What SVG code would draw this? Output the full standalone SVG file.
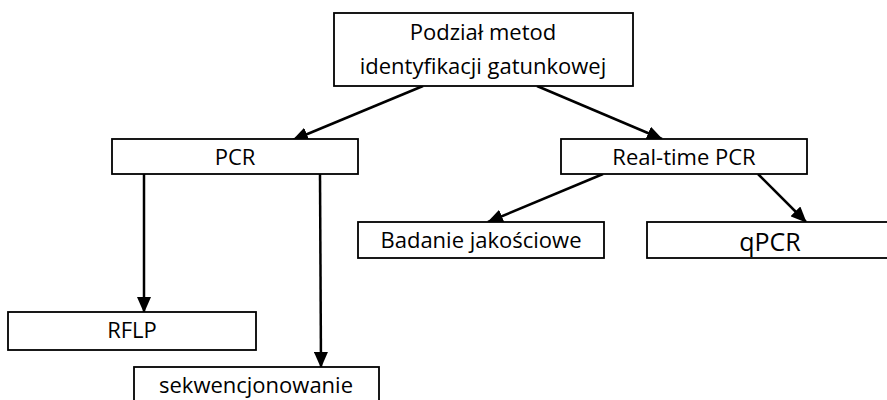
<svg xmlns="http://www.w3.org/2000/svg" width="887" height="400" viewBox="0 0 887 400">
<style>
.box{fill:#fff;stroke:#000;stroke-width:1.8}
.t{font-family:"Open Sans","Liberation Sans",sans-serif;font-size:22px;fill:#000;text-anchor:middle}
.c{stroke:#000;stroke-width:2.5;fill:none;marker-end:url(#ah)}
</style>
<defs>
<marker id="ah" markerUnits="userSpaceOnUse" markerWidth="16" markerHeight="14" refX="15" refY="7" orient="auto">
<path d="M0,0 L16,7 L0,14 z" fill="#000"/>
</marker>
</defs>
<rect width="887" height="400" fill="#fff"/>
<g id="connectors">
<line class="c" x1="423" y1="86" x2="293" y2="140"/>
<line class="c" x1="537" y1="86" x2="662" y2="139"/>
<line class="c" x1="144" y1="174" x2="144" y2="312"/>
<line class="c" x1="320" y1="174" x2="321" y2="367"/>
<line class="c" x1="603" y1="174" x2="488" y2="222"/>
<line class="c" x1="758" y1="174" x2="806" y2="222"/>
</g>
<g id="root">
<rect class="box" x="334" y="13" width="299" height="73"/>
<text class="t" x="483" y="40">Podział metod</text>
<text class="t" x="483" y="74">identyfikacji gatunkowej</text>
</g>
<g id="pcr">
<rect class="box" x="112" y="139" width="246" height="35"/>
<text class="t" x="235" y="165">PCR</text>
</g>
<g id="realtime">
<rect class="box" x="561" y="139" width="246" height="35"/>
<text class="t" x="684" y="165">Real-time PCR</text>
</g>
<g id="badanie">
<rect class="box" x="358" y="222" width="246" height="36"/>
<text class="t" x="481" y="248">Badanie jakościowe</text>
</g>
<g id="qpcr">
<rect class="box" x="647" y="222" width="260" height="36"/>
<text class="t" x="770" y="251" style="font-size:25px">qPCR</text>
</g>
<g id="rflp">
<rect class="box" x="8" y="312" width="248" height="38"/>
<text class="t" x="132" y="338">RFLP</text>
</g>
<g id="sekw">
<rect class="box" x="134" y="367" width="245" height="40"/>
<text class="t" x="256" y="393">sekwencjonowanie</text>
</g>
</svg>
